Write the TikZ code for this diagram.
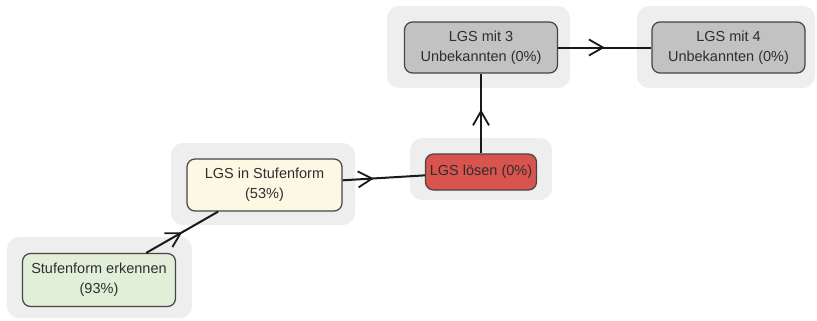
\documentclass[tikz,border=0pt]{standalone}
\usepackage{fontspec}
\setmainfont{Liberation Sans}
\usetikzlibrary{arrows.meta,decorations.markings}
\definecolor{halo}{HTML}{EEEEEE}
\definecolor{bordc}{HTML}{444444}
\definecolor{txtc}{HTML}{2E2E2E}
\definecolor{greenf}{HTML}{E1EFD9}
\definecolor{yellowf}{HTML}{FDF8E3}
\definecolor{redf}{HTML}{D9534F}
\definecolor{grayf}{HTML}{C2C2C2}
\tikzset{
  halobox/.style={fill=halo, rounded corners=12bp, inner sep=0pt, draw=none},
  kbox/.style={draw=bordc, line width=1.2bp, rounded corners=8bp, inner sep=0pt,
    align=center, text=txtc, font=\fontsize{14.5bp}{20bp}\selectfont},
  conn/.style={line width=2bp, draw=black!90,
    postaction={decorate, decoration={markings,
      mark=at position #1 with {\arrow[line width=1.8bp]{Straight Barb[length=14bp,width=16bp]}}}}},
  conn/.default=0.5
}
\begin{document}
\begin{tikzpicture}[x=1bp,y=-1bp]
\useasboundingbox (0,0) rectangle (817,320);
% halos
\node[halobox, minimum width=185bp, minimum height=81bp] (h1) at (99.5,277.5) {};
\node[halobox, minimum width=184bp, minimum height=82bp] (h2) at (263,184) {};
\node[halobox, minimum width=142bp, minimum height=62bp] (h3) at (481,169) {};
\node[halobox, minimum width=183bp, minimum height=82bp] (h4) at (478.5,47) {};
\node[halobox, minimum width=178bp, minimum height=82bp] (h5) at (726,47) {};
% boxes
\node[kbox, fill=greenf, minimum width=153bp, minimum height=53bp] (n1) at (99,280)
  {Stufenform erkennen\\(93\%)};
\node[kbox, fill=yellowf, minimum width=155bp, minimum height=52bp] (n2) at (264.5,185)
  {LGS in Stufenform\\(53\%)};
\node[kbox, fill=redf, minimum width=111bp, minimum height=36bp] (n3) at (481,172)
  {LGS lösen (0\%)};
\node[kbox, fill=grayf, minimum width=153bp, minimum height=51bp] (n4) at (481,47.5)
  {LGS mit 3\\Unbekannten (0\%)};
\node[kbox, fill=grayf, minimum width=153bp, minimum height=51bp] (n5) at (728.5,47.5)
  {LGS mit 4\\Unbekannten (0\%)};
% connectors
\draw[conn=0.5] (n1) -- (n2);
\draw[conn=0.38] (n2) -- (n3);
\draw[conn=0.55] (n3.north) -- (n4.south);
\draw[conn=0.5] (n4) -- (n5);
\end{tikzpicture}
\end{document}
